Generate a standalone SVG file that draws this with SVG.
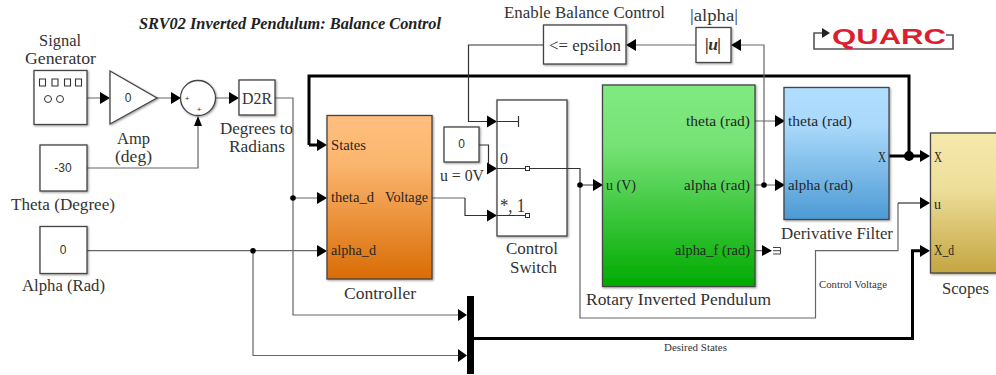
<svg xmlns="http://www.w3.org/2000/svg" width="996" height="375" viewBox="0 0 996 375">
<style>
text{font-family:"Liberation Serif","DejaVu Serif",serif;font-size:17.500px;fill:#333;}
.p{font-size:15.500px;fill:#262626}
.n{font-family:"Liberation Sans",Arial,sans-serif;font-size:12px;text-anchor:middle;fill:#333}
.s{font-size:10px;fill:#333}
.b{fill:#fff;stroke:#444;stroke-width:1.300;filter:url(#sh)}
.l{fill:none;stroke:#666;stroke-width:1.200}
.d{fill:none;stroke:#333;stroke-width:1.200}
.t{fill:none;stroke:#000;stroke-width:3}
.a{fill:#000}
</style>
<defs>
<filter id="sh" x="-10%" y="-10%" width="125%" height="125%"><feDropShadow dx="1" dy="1" stdDeviation="1" flood-color="#000" flood-opacity="0.4"/></filter>
<linearGradient id="go" x1="0" y1="0" x2="0" y2="1"><stop offset="0" stop-color="#ffbf7f"/><stop offset="0.3" stop-color="#fbb56e"/><stop offset="1" stop-color="#d96c05"/></linearGradient>
<linearGradient id="gg" x1="0" y1="0" x2="0" y2="1"><stop offset="0" stop-color="#80ea80"/><stop offset="0.3" stop-color="#76e276"/><stop offset="1" stop-color="#00aa00"/></linearGradient>
<linearGradient id="gb" x1="0" y1="0" x2="0" y2="1"><stop offset="0" stop-color="#b0deff"/><stop offset="0.3" stop-color="#a8d8fa"/><stop offset="1" stop-color="#4c9ad4"/></linearGradient>
<linearGradient id="gy" x1="0" y1="0" x2="0" y2="1"><stop offset="0" stop-color="#f6e9ac"/><stop offset="0.4" stop-color="#eede9a"/><stop offset="1" stop-color="#c4a540"/></linearGradient>
</defs>
<g id="connectors">
<path class="l" d="M87 98H102M157 98H172M216 98H231M87 168H198V123"/>
<path class="l" d="M275 98H293V315H460M293 198H318M87 250.700H318M253 250.700V355.500H460"/>
<path class="t" d="M309 145V76H909V156"/>
<path class="t" d="M309 145H318"/>
<path class="t" d="M889 156H921"/>
<path class="t" d="M474 338.500H912.500V250.700H921"/>
<path class="l" d="M432 198H465"/>
<path class="d" d="M465 198V215.500H489"/>
<path class="d" d="M479 145H488.500V168.500H489M530 168.500H580V185H594"/>
<path class="d" d="M543 45H468.500V121.500H489"/>
<path class="l" d="M696 45H634M764 185V45H739M755 121H776M755 185H776M755 250.700H763"/>
<path class="l" d="M580 185V318H815.500V250.700H898V203"/>
<path class="d" d="M898 203H921"/>
<g class="a">
<path d="M100 92L110 98L100 104Z"/><path d="M171 92L181 98L171 104Z"/><path d="M229 92L239 98L229 104Z"/>
<path d="M194 125L198 115L202 125Z" transform="translate(0,1)"/>
<path d="M317 139L327 145L317 151Z"/><path d="M317 192L327 198L317 204Z"/><path d="M317 245L327 251L317 257Z"/>
<path d="M458 309L467 315L458 321Z"/><path d="M458 349L467 355.500L458 362Z"/>
<path d="M487 115.500L497 121.500L487 127.500Z"/><path d="M487 162.500L497 168.500L487 174.500Z"/><path d="M487 209.500L497 215.500L487 221.500Z"/>
<path d="M593 179L603 185L593 191Z"/><path d="M636 39L626 45L636 51Z"/><path d="M741 39L731 45L741 51Z"/>
<path d="M775 115L785 121L775 127Z"/><path d="M775 179L785 185L775 191Z"/><path d="M762 245L772 250.700L762 256Z"/>
<path d="M920 150L930 156L920 162Z"/><path d="M920 197L930 203L920 209Z"/><path d="M920 245L930 250.700L920 257Z"/>
<circle cx="293" cy="198" r="2.800"/><circle cx="253" cy="250.700" r="2.800"/><circle cx="580" cy="185" r="2.800"/><circle cx="764" cy="185" r="2.800"/><circle cx="909" cy="156" r="5"/>
</g>
</g>
<text x="139" y="29" font-weight="bold" font-style="italic" style="font-size:17.500px;fill:#222" textLength="302" lengthAdjust="spacingAndGlyphs">SRV02 Inverted Pendulum: Balance Control</text>
<g id="signal-generator"><rect class="b" x="34" y="70.500" width="53" height="54"/>
<path d="M39.500 79h6v7h-6zM52 79h6v7h-6zM64.500 79h6v7h-6zM75.500 79h6v7h-6z" fill="none" stroke="#333" stroke-width="1.100"/>
<circle cx="48" cy="99" r="3.500" fill="none" stroke="#333"/><circle cx="60" cy="99" r="3.500" fill="none" stroke="#333"/>
<text x="39" y="46" textLength="42" lengthAdjust="spacingAndGlyphs">Signal</text><text x="25" y="64" textLength="71" lengthAdjust="spacingAndGlyphs">Generator</text></g>
<g id="amp"><path class="b" d="M110 71L157 98L110 124Z"/><text class="n" x="128" y="102">0</text>
<text x="117" y="144" textLength="33" lengthAdjust="spacingAndGlyphs">Amp</text><text x="115" y="162" textLength="37" lengthAdjust="spacingAndGlyphs">(deg)</text></g>
<g id="sum"><circle class="b" cx="198" cy="98" r="17.500"/><text class="n" x="187" y="101" style="font-size:8px">+</text><text class="n" x="199" y="112" style="font-size:8px">+</text></g>
<g id="d2r"><rect class="b" x="239" y="80" width="36" height="35"/><text x="242" y="104" textLength="30" lengthAdjust="spacingAndGlyphs">D2R</text>
<text x="220" y="134" textLength="73" lengthAdjust="spacingAndGlyphs">Degrees to</text><text x="229" y="152" textLength="56" lengthAdjust="spacingAndGlyphs">Radians</text></g>
<g id="theta-degree"><rect class="b" x="40" y="145" width="47" height="46"/><text class="n" x="63" y="172">-30</text><text x="11" y="210" textLength="104" lengthAdjust="spacingAndGlyphs">Theta (Degree)</text></g>
<g id="alpha-rad"><rect class="b" x="40" y="226.500" width="47" height="47"/><text class="n" x="63" y="254">0</text><text x="22" y="291" textLength="83" lengthAdjust="spacingAndGlyphs">Alpha (Rad)</text></g>
<g id="controller"><rect class="b" x="327" y="115.500" width="105" height="163.500" style="fill:url(#go)"/>
<text class="p" x="331" y="150" textLength="35" lengthAdjust="spacingAndGlyphs">States</text><text class="p" x="331" y="202" textLength="43" lengthAdjust="spacingAndGlyphs">theta_d</text><text class="p" x="385" y="202" textLength="43" lengthAdjust="spacingAndGlyphs">Voltage</text><text class="p" x="331" y="255" textLength="45" lengthAdjust="spacingAndGlyphs">alpha_d</text>
<text x="344" y="299" textLength="72" lengthAdjust="spacingAndGlyphs">Controller</text></g>
<g id="u-0v"><rect class="b" x="444" y="127" width="35" height="35"/><text class="n" x="461.500" y="148">0</text><text x="440" y="181" textLength="44" lengthAdjust="spacingAndGlyphs">u = 0V</text></g>
<g id="control-switch"><rect class="b" x="497" y="100" width="70" height="136"/>
<path class="d" d="M497 121.500H518M518.500 116V127M497 168.500H525M530 168.500H567M497 215.500H525"/>
<rect x="525.500" y="166.500" width="4" height="4" fill="#fff" stroke="#333"/><rect x="525.500" y="213.500" width="4" height="4" fill="#fff" stroke="#333"/>
<text x="500" y="164" textLength="8" lengthAdjust="spacingAndGlyphs">0</text><text x="500" y="212" textLength="25" lengthAdjust="spacingAndGlyphs" style="font-size:19px">*, 1</text>
<text x="506" y="254" textLength="52" lengthAdjust="spacingAndGlyphs">Control</text><text x="510" y="273" textLength="47" lengthAdjust="spacingAndGlyphs">Switch</text></g>
<g id="enable-balance"><rect class="b" x="543.500" y="25" width="82.500" height="39"/><text x="549" y="51" textLength="72" lengthAdjust="spacingAndGlyphs">&lt;= epsilon</text><text x="504" y="18" textLength="161" lengthAdjust="spacingAndGlyphs">Enable Balance Control</text></g>
<g id="abs-alpha"><rect class="b" x="696" y="27.500" width="35" height="35"/><text x="705" y="50" font-weight="bold" font-style="italic" textLength="16" lengthAdjust="spacing">|u|</text><text x="690" y="21" textLength="48" lengthAdjust="spacingAndGlyphs">|alpha|</text></g>
<g id="pendulum"><rect class="b" x="602.500" y="85" width="152.500" height="201.500" style="fill:url(#gg)"/>
<text class="p" x="606" y="190" textLength="30" lengthAdjust="spacingAndGlyphs">u (V)</text><text class="p" x="686" y="126" textLength="64" lengthAdjust="spacingAndGlyphs">theta (rad)</text><text class="p" x="684" y="190" textLength="66" lengthAdjust="spacingAndGlyphs">alpha (rad)</text><text class="p" x="675" y="255" textLength="75" lengthAdjust="spacingAndGlyphs">alpha_f (rad)</text>
<text x="586" y="305" textLength="185" lengthAdjust="spacingAndGlyphs">Rotary Inverted Pendulum</text></g>
<g id="terminator"><path d="M773 247.500H780.500V254H773M773 250.700H780.500" fill="none" stroke="#444" stroke-width="1"/></g>
<g id="derivative-filter"><rect class="b" x="784" y="87.500" width="105" height="132" style="fill:url(#gb)"/>
<text class="p" x="788" y="126" textLength="64" lengthAdjust="spacingAndGlyphs">theta (rad)</text><text class="p" x="788" y="190" textLength="65" lengthAdjust="spacingAndGlyphs">alpha (rad)</text><text class="p" x="878" y="162" textLength="8" lengthAdjust="spacingAndGlyphs">X</text>
<text x="781" y="239" textLength="112" lengthAdjust="spacingAndGlyphs">Derivative Filter</text></g>
<g id="scopes"><rect class="b" x="930.500" y="133" width="70" height="140" style="fill:url(#gy)"/>
<text class="p" x="934" y="162" textLength="8" lengthAdjust="spacingAndGlyphs">X</text><text class="p" x="934" y="209" textLength="7" lengthAdjust="spacingAndGlyphs">u</text><text class="p" x="934" y="255" textLength="20" lengthAdjust="spacingAndGlyphs">X_d</text>
<text x="942" y="294" textLength="47" lengthAdjust="spacingAndGlyphs">Scopes</text></g>
<g id="mux"><rect x="467" y="296" width="7" height="78" fill="#000"/></g>
<text class="s" x="819" y="288" textLength="68" lengthAdjust="spacingAndGlyphs">Control Voltage</text>
<text class="s" x="664" y="351" textLength="63" lengthAdjust="spacingAndGlyphs">Desired States</text>
<g id="quarc"><path d="M946 35H953V49H814V33H823" fill="none" stroke="#555" stroke-width="1.600"/><path d="M822 28L830 33L822 38Z" fill="#222"/>
<text x="832" y="43.500" textLength="114" lengthAdjust="spacingAndGlyphs" style="font-family:'Liberation Sans',Arial,sans-serif;font-size:22px;font-weight:bold;fill:#dc1f30">QUARC</text></g>
</svg>
